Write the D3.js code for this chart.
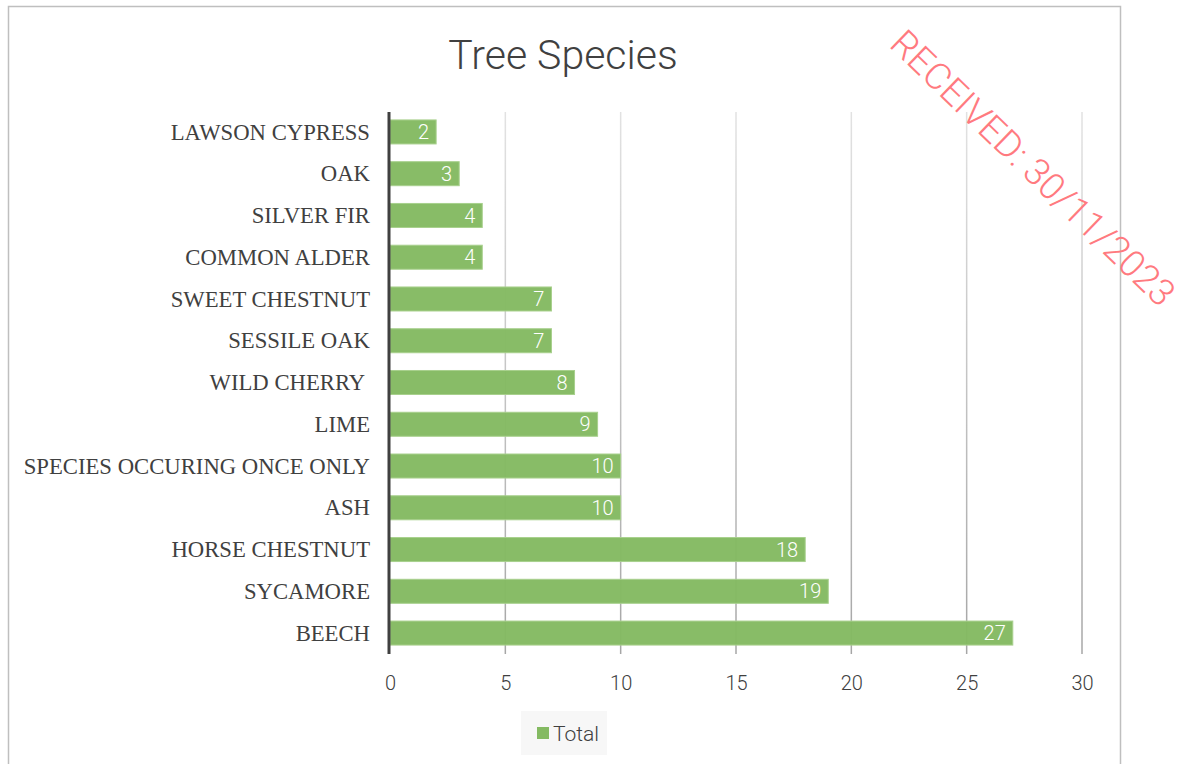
<!DOCTYPE html>
<html><head><meta charset="utf-8">
<script src="https://cdn.jsdelivr.net/npm/d3@7"></script>
<style>html,body{margin:0;padding:0;background:#fff;}</style>
</head><body>
<svg id="c" width="1186" height="764"></svg>
<script>
const categories = ["LAWSON CYPRESS","OAK","SILVER FIR","COMMON ALDER","SWEET CHESTNUT","SESSILE OAK","WILD CHERRY ","LIME","SPECIES OCCURING ONCE ONLY","ASH","HORSE CHESTNUT","SYCAMORE","BEECH"];
const values = [2,3,4,4,7,7,8,9,10,10,18,19,27];
const xTicks = [0,5,10,15,20,25,30];
const title = "Tree Species";
const seriesName = "Total";
const watermark = "RECEIVED: 30/11/2023";

(function(){
const svg = d3.select("#c");
const L = 390, R = 1082, T = 112, B = 654;
const x = d3.scaleLinear().domain([0,30]).range([L,R]);
const y = d3.scaleBand().domain(categories).range([T,B-1]).paddingInner(0.425).paddingOuter(0.19);

svg.append("rect").attr("x",8.5).attr("y",6.5).attr("width",1112).attr("height",800)
  .attr("fill","#fff").attr("stroke","#bfbfbf").attr("stroke-width",1.5);

const defs = svg.append("defs");
const g = defs.append("linearGradient").attr("id","gg").attr("gradientUnits","userSpaceOnUse")
  .attr("x1",0).attr("x2",0).attr("y1",T).attr("y2",B);
g.append("stop").attr("offset","0").attr("stop-color","#e2e2e2");
g.append("stop").attr("offset","1").attr("stop-color","#a6a6a6");

svg.append("g").selectAll("line").data(xTicks.filter(d=>d>0)).join("line")
  .attr("x1",d=>x(d)).attr("x2",d=>x(d)).attr("y1",T).attr("y2",B)
  .attr("stroke","url(#gg)").attr("stroke-width",1.5);

svg.append("g").selectAll("rect").data(values).join("rect")
  .attr("x",x(0)).attr("y",(d,i)=>y(categories[i]))
  .attr("width",d=>x(d)-x(0)).attr("height",y.bandwidth())
  .attr("fill","#84ba62").attr("fill-opacity",0.97).attr("stroke","#a8d08d").attr("stroke-width",1);

svg.append("g").selectAll("text").data(values).join("text")
  .attr("x",d=>x(d)-7).attr("y",(d,i)=>y(categories[i])+y.bandwidth()/2)
  .attr("dy","0.36em").attr("text-anchor","end")
  .attr("font-family","Roboto").attr("font-weight",300).attr("font-size",20)
  .attr("fill","#fff").text(d=>d);

svg.append("line").attr("x1",x(0)-1).attr("x2",x(0)-1).attr("y1",T).attr("y2",B)
  .attr("stroke","#404040").attr("stroke-width",3);

svg.append("g").selectAll("text").data(categories).join("text")
  .attr("x",370).attr("y",d=>y(d)+y.bandwidth()/2).attr("dy","0.34em")
  .attr("text-anchor","end").attr("font-family","Liberation Serif").attr("font-size",22.7)
  .attr("fill","#404040").style("white-space","pre").text(d=>d);

const xa = svg.append("g").attr("transform",`translate(0,${B})`)
  .call(d3.axisBottom(x).tickValues(xTicks).tickSize(0).tickPadding(22));
xa.select(".domain").remove();
xa.selectAll("text").attr("font-family","Roboto").attr("font-weight",300).attr("font-size",20).attr("fill","#404040");

svg.append("text").attr("x",563).attr("y",69).attr("text-anchor","middle")
  .attr("font-family","Roboto").attr("font-weight",300).attr("font-size",41).attr("fill","#404040").text(title);

svg.append("rect").attr("x",521).attr("y",711).attr("width",86).attr("height",44).attr("fill","#f7f7f7");
svg.append("rect").attr("x",537).attr("y",727).attr("width",12).attr("height",12).attr("fill","#84ba62");
svg.append("text").attr("x",553).attr("y",733).attr("dy","0.36em").attr("font-family","Roboto").attr("font-weight",300)
  .attr("font-size",21).attr("fill","#404040").text(seriesName);

svg.append("text").attr("transform","translate(1033,168) rotate(44)").attr("text-anchor","middle").attr("dy","0.35em")
  .attr("font-family","Roboto").attr("font-weight",300).attr("font-size",37).attr("fill","#ff7a7f").text(watermark);
})();
</script>
</body></html>
